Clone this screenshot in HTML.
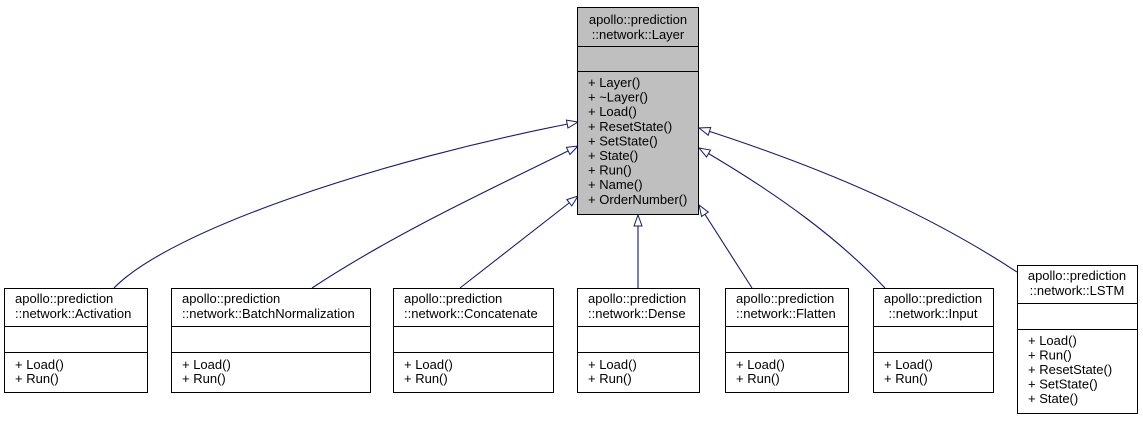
<!DOCTYPE html>
<html><head><meta charset="utf-8"><style>
html,body{margin:0;padding:0;background:#fff;}
svg{display:block;}
text{font-family:"Liberation Sans",Helvetica,Arial,sans-serif;font-size:13px;fill:#000;}
</style></head><body>
<svg width="1143" height="421" viewBox="0 0 1143 421" xmlns="http://www.w3.org/2000/svg">
<defs>
<marker id="a" markerWidth="14" markerHeight="12" refX="12" refY="5" orient="auto" markerUnits="userSpaceOnUse">
<path d="M1,1 L12,5 L1,9 Z" fill="#fff" stroke="#191970" stroke-width="1"/>
</marker>
</defs>
<g fill="none" stroke="#191970" stroke-width="1.1" marker-end="url(#a)">
<path d="M114,288 C170,230 380,160 578,122"/>
<path d="M312,288 C400,230 500,185 578,146"/>
<path d="M460,288 L578,196"/>
<path d="M638,288 L638,215"/>
<path d="M752,288 L699,205"/>
<path d="M885,288 C840,240 780,195 699,148"/>
<path d="M1017,272 C930,215 830,170 699,128"/>
</g>
<rect x="577.5" y="7.5" width="121" height="207" fill="#bfbfbf" stroke="#000"/>
<line x1="577.5" y1="46.5" x2="698.5" y2="46.5" stroke="#000"/>
<line x1="577.5" y1="71.5" x2="698.5" y2="71.5" stroke="#000"/>
<text x="638" y="24" text-anchor="middle">apollo::prediction</text>
<text x="638" y="39" text-anchor="middle">::network::Layer</text>
<text x="588" y="87">+ Layer()</text>
<text x="588" y="101.6">+ ~Layer()</text>
<text x="588" y="116.2">+ Load()</text>
<text x="588" y="130.8">+ ResetState()</text>
<text x="588" y="145.4">+ SetState()</text>
<text x="588" y="160">+ State()</text>
<text x="588" y="174.6">+ Run()</text>
<text x="588" y="189.2">+ Name()</text>
<text x="588" y="203.8">+ OrderNumber()</text>
<g stroke="#000" fill="#fff">
<rect x="4.5" y="288.5" width="143" height="104"/>
<rect x="171.5" y="288.5" width="199" height="104"/>
<rect x="393.5" y="288.5" width="160" height="104"/>
<rect x="577.5" y="288.5" width="122" height="104"/>
<rect x="725.5" y="288.5" width="123" height="104"/>
<rect x="873.5" y="288.5" width="120" height="104"/>
<rect x="1017.5" y="265.5" width="120" height="148"/>
</g>
<g stroke="#000">
<line x1="4.5" y1="326.5" x2="147.5" y2="326.5"/><line x1="4.5" y1="352.5" x2="147.5" y2="352.5"/>
<line x1="171.5" y1="326.5" x2="370.5" y2="326.5"/><line x1="171.5" y1="352.5" x2="370.5" y2="352.5"/>
<line x1="393.5" y1="326.5" x2="553.5" y2="326.5"/><line x1="393.5" y1="352.5" x2="553.5" y2="352.5"/>
<line x1="577.5" y1="326.5" x2="699.5" y2="326.5"/><line x1="577.5" y1="352.5" x2="699.5" y2="352.5"/>
<line x1="725.5" y1="326.5" x2="848.5" y2="326.5"/><line x1="725.5" y1="352.5" x2="848.5" y2="352.5"/>
<line x1="873.5" y1="326.5" x2="993.5" y2="326.5"/><line x1="873.5" y1="352.5" x2="993.5" y2="352.5"/>
<line x1="1017.5" y1="303.5" x2="1137.5" y2="303.5"/><line x1="1017.5" y1="329.5" x2="1137.5" y2="329.5"/>
</g>
<text x="15" y="303">apollo::prediction</text><text x="15" y="318">::network::Activation</text>
<text x="15" y="369">+ Load()</text><text x="15" y="383">+ Run()</text>
<text x="182" y="303">apollo::prediction</text><text x="182" y="318">::network::BatchNormalization</text>
<text x="182" y="369">+ Load()</text><text x="182" y="383">+ Run()</text>
<text x="404" y="303">apollo::prediction</text><text x="404" y="318">::network::Concatenate</text>
<text x="404" y="369">+ Load()</text><text x="404" y="383">+ Run()</text>
<text x="588" y="303">apollo::prediction</text><text x="588" y="318">::network::Dense</text>
<text x="588" y="369">+ Load()</text><text x="588" y="383">+ Run()</text>
<text x="736" y="303">apollo::prediction</text><text x="736" y="318">::network::Flatten</text>
<text x="736" y="369">+ Load()</text><text x="736" y="383">+ Run()</text>
<text x="933" y="303" text-anchor="middle">apollo::prediction</text><text x="933" y="318" text-anchor="middle">::network::Input</text>
<text x="884" y="369">+ Load()</text><text x="884" y="383">+ Run()</text>
<text x="1077" y="280" text-anchor="middle">apollo::prediction</text><text x="1077" y="295" text-anchor="middle">::network::LSTM</text>
<text x="1028" y="345">+ Load()</text><text x="1028" y="359.5">+ Run()</text><text x="1028" y="374">+ ResetState()</text><text x="1028" y="388.5">+ SetState()</text><text x="1028" y="403">+ State()</text>
</svg>
</body></html>
